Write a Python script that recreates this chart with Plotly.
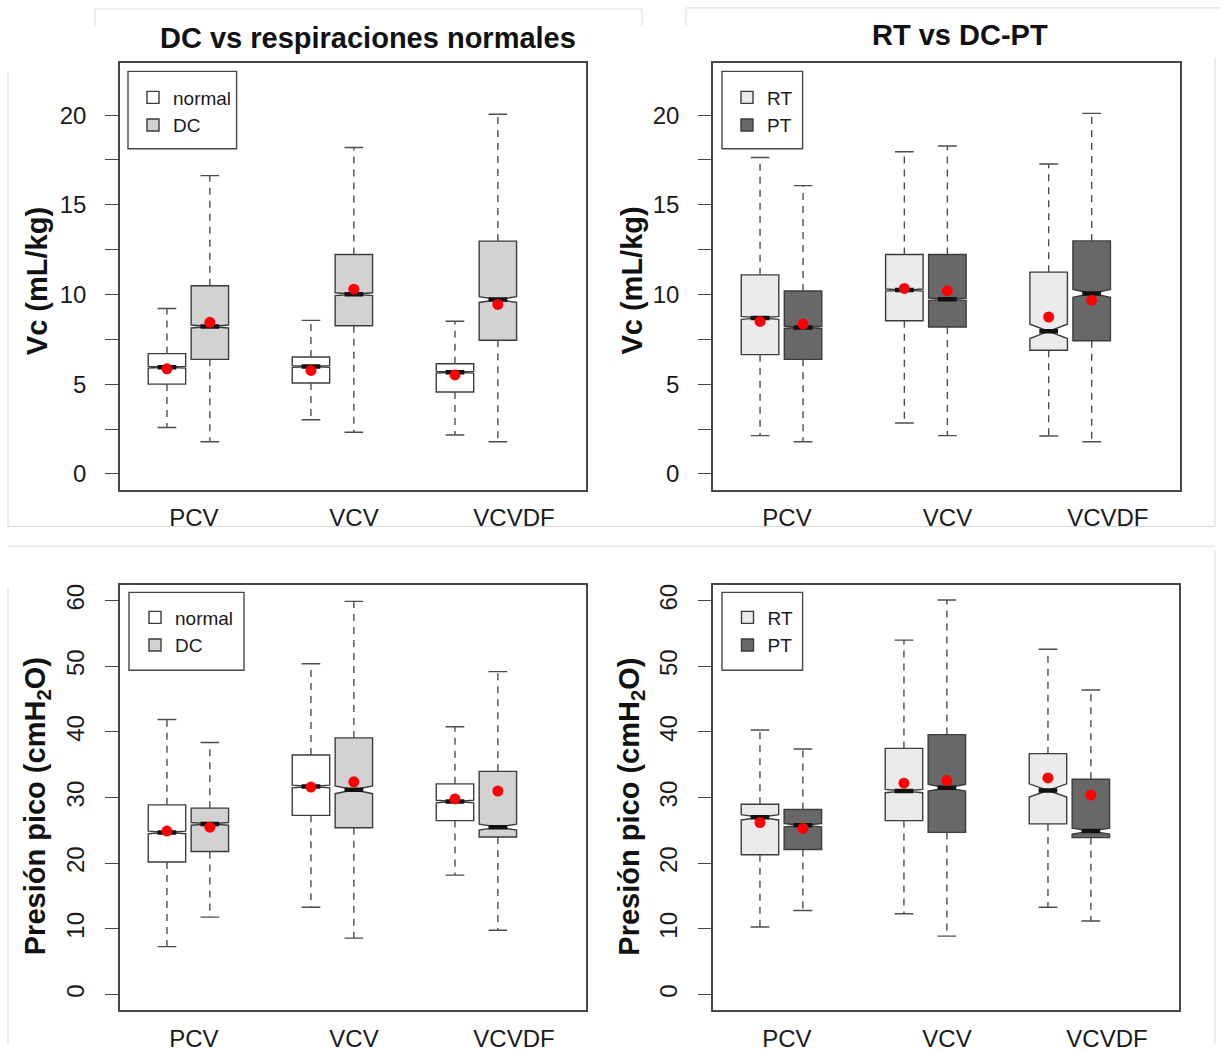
import plotly.graph_objects as go

# ---------------------------------------------------------------- data
GROUPS = ["PCV", "VCV", "VCVDF"]

# Vc (mL/kg) - normal breaths
VC_NORMAL_LOW = [2.59, 3.02, 2.17]
VC_NORMAL_Q1 = [5.01, 5.07, 4.57]
VC_NORMAL_MED = [5.95, 5.99, 5.67]
VC_NORMAL_Q3 = [6.71, 6.52, 6.14]
VC_NORMAL_HIGH = [9.22, 8.56, 8.51]
VC_NORMAL_MEAN = [5.86, 5.77, 5.52]
VC_NORMAL_NOTCH = [0.05, 0.05, 0.05]

# Vc (mL/kg) - DC
VC_DC_LOW = [1.80, 2.33, 1.80]
VC_DC_Q1 = [6.39, 8.26, 7.45]
VC_DC_MED = [8.22, 10.02, 9.72]
VC_DC_Q3 = [10.49, 12.23, 12.98]
VC_DC_HIGH = [16.63, 18.20, 20.05]
VC_DC_MEAN = [8.45, 10.30, 9.45]
VC_DC_NOTCH = [0.08, 0.08, 0.16]

# Vc (mL/kg) - RT
VC_RT_LOW = [2.14, 2.84, 2.12]
VC_RT_Q1 = [6.65, 8.54, 6.90]
VC_RT_MED = [8.70, 10.25, 7.95]
VC_RT_Q3 = [11.10, 12.23, 11.25]
VC_RT_HIGH = [17.64, 17.96, 17.28]
VC_RT_MEAN = [8.50, 10.34, 8.75]
VC_RT_NOTCH = [0.08, 0.06, 0.40]

# Vc (mL/kg) - PT
VC_PT_LOW = [1.80, 2.14, 1.80]
VC_PT_Q1 = [6.39, 8.19, 7.43]
VC_PT_MED = [8.17, 9.74, 10.06]
VC_PT_Q3 = [10.20, 12.23, 12.99]
VC_PT_HIGH = [16.07, 18.28, 20.10]
VC_PT_MEAN = [8.36, 10.21, 9.68]
VC_PT_NOTCH = [0.06, 0.06, 0.22]

# Presión pico (cmH2O) - normal breaths
PP_NORMAL_LOW = [7.3, 13.3, 18.2]
PP_NORMAL_Q1 = [20.2, 27.3, 26.5]
PP_NORMAL_MED = [24.7, 31.7, 29.4]
PP_NORMAL_Q3 = [28.9, 36.5, 32.1]
PP_NORMAL_HIGH = [41.9, 50.4, 40.8]
PP_NORMAL_MEAN = [24.9, 31.6, 29.8]
PP_NORMAL_NOTCH = [0.2, 0.2, 0.2]

# Presión pico (cmH2O) - DC
PP_DC_LOW = [11.8, 8.6, 9.8]
PP_DC_Q1 = [21.8, 25.4, 24.0]
PP_DC_MED = [26.0, 31.2, 25.5]
PP_DC_Q3 = [28.4, 39.1, 34.0]
PP_DC_HIGH = [38.4, 59.9, 49.2]
PP_DC_MEAN = [25.5, 32.4, 31.0]
PP_DC_NOTCH = [0.2, 0.6, 0.45]

# Presión pico (cmH2O) - RT
PP_RT_LOW = [10.3, 12.3, 13.3]
PP_RT_Q1 = [21.3, 26.5, 26.0]
PP_RT_MED = [27.0, 31.0, 31.1]
PP_RT_Q3 = [29.0, 37.5, 36.7]
PP_RT_HIGH = [40.3, 54.0, 52.6]
PP_RT_MEAN = [26.2, 32.2, 33.0]
PP_RT_NOTCH = [0.4, 0.25, 1.0]

# Presión pico (cmH2O) - PT
PP_PT_LOW = [12.8, 8.9, 11.2]
PP_PT_Q1 = [22.1, 24.7, 23.9]
PP_PT_MED = [25.8, 31.5, 24.9]
PP_PT_Q3 = [28.2, 39.6, 32.8]
PP_PT_HIGH = [37.4, 60.1, 46.4]
PP_PT_MEAN = [25.3, 32.6, 30.4]
PP_PT_NOTCH = [0.25, 0.5, 0.45]

VC_TICKS = [0, 5, 10, 15, 20]
VC_MINOR_TICKS = [2.5, 7.5, 12.5, 17.5]
PP_TICKS = [0, 10, 20, 30, 40, 50, 60]

# ---------------------------------------------------------------- styling
W, H = 1229, 1052
FONT = "Liberation Sans, Arial, sans-serif"
TEXT = "#1a1a1a"
FRAME = "#474747"
OUTLINE = "#3c3c3c"
WHISKER = "#4d4d4d"

WHITE, LIGHT, RT_FILL, PT_FILL = "#ffffff", "#d2d2d2", "#ebebeb", "#686868"

GROUP_POS = [1, 2, 3]
OFFSETS = [-0.149, 0.149]
BOX_W = 0.26
X_RANGE = [0.525, 3.761]
LABEL_POS = [1.038, 2.150, 3.261]
VC_RANGE = [-0.88, 22.88]
PP_RANGE = [-2.4, 62.4]

# plotting frames in pixels: left, right, top, bottom
FRAMES = [(120, 586, 63, 493), (713, 1180, 63, 493),
          (120, 586, 589, 1018), (713, 1179, 589, 1018)]
# legend boxes in pixels: left, top, right, bottom, symbol centre x, first row centre y
LEGEND_BOXES = [(128, 71, 236.6, 149, 153, 97),
                (722, 71, 802.6, 149, 747, 97),
                (129, 596.5, 244, 675, 155, 621.5),
                (722, 596.5, 802.6, 675, 747.5, 621.5)]


def series(name, fill, low, q1, med, q3, high, mean, notch):
    return dict(name=name, fill=fill, low=low, q1=q1, med=med, q3=q3,
                high=high, mean=mean, notch=notch)


PANELS = [
    [series("normal", WHITE, VC_NORMAL_LOW, VC_NORMAL_Q1, VC_NORMAL_MED, VC_NORMAL_Q3,
            VC_NORMAL_HIGH, VC_NORMAL_MEAN, VC_NORMAL_NOTCH),
     series("DC", LIGHT, VC_DC_LOW, VC_DC_Q1, VC_DC_MED, VC_DC_Q3,
            VC_DC_HIGH, VC_DC_MEAN, VC_DC_NOTCH)],
    [series("RT", RT_FILL, VC_RT_LOW, VC_RT_Q1, VC_RT_MED, VC_RT_Q3,
            VC_RT_HIGH, VC_RT_MEAN, VC_RT_NOTCH),
     series("PT", PT_FILL, VC_PT_LOW, VC_PT_Q1, VC_PT_MED, VC_PT_Q3,
            VC_PT_HIGH, VC_PT_MEAN, VC_PT_NOTCH)],
    [series("normal", WHITE, PP_NORMAL_LOW, PP_NORMAL_Q1, PP_NORMAL_MED, PP_NORMAL_Q3,
            PP_NORMAL_HIGH, PP_NORMAL_MEAN, PP_NORMAL_NOTCH),
     series("DC", LIGHT, PP_DC_LOW, PP_DC_Q1, PP_DC_MED, PP_DC_Q3,
            PP_DC_HIGH, PP_DC_MEAN, PP_DC_NOTCH)],
    [series("RT", RT_FILL, PP_RT_LOW, PP_RT_Q1, PP_RT_MED, PP_RT_Q3,
            PP_RT_HIGH, PP_RT_MEAN, PP_RT_NOTCH),
     series("PT", PT_FILL, PP_PT_LOW, PP_PT_Q1, PP_PT_MED, PP_PT_Q3,
            PP_PT_HIGH, PP_PT_MEAN, PP_PT_NOTCH)],
]

fig = go.Figure()

for k, panel in enumerate(PANELS):
    sfx = "" if k == 0 else str(k + 1)
    xa, ya, leg = "x" + sfx, "y" + sfx, "legend" + sfx
    for j, s in enumerate(panel):
        pos = [g + OFFSETS[j] for g in GROUP_POS]
        # notched box (hinges + median); whiskers are drawn separately, dashed
        fig.add_trace(go.Box(
            x=pos, q1=s["q1"], median=s["med"], q3=s["q3"],
            lowerfence=s["q1"], upperfence=s["q3"], notchspan=s["notch"],
            notched=True, notchwidth=0.5, width=BOX_W, whiskerwidth=0,
            boxpoints=False, fillcolor=s["fill"],
            line=dict(color=OUTLINE, width=1.4),
            name=s["name"], legend=leg, xaxis=xa, yaxis=ya, hoverinfo="skip"))

        wx, wy, cx, cy, mx, my = [], [], [], [], [], []
        cap = BOX_W / 4
        for p, lo, a, m, b, hi in zip(pos, s["low"], s["q1"], s["med"], s["q3"], s["high"]):
            wx += [p, p, None, p, p, None]
            wy += [b, hi, None, a, lo, None]
            cx += [p - cap, p + cap, None, p - cap, p + cap, None]
            cy += [hi, hi, None, lo, lo, None]
            mx += [p - cap, p + cap, None]
            my += [m, m, None]
        fig.add_trace(go.Scatter(x=wx, y=wy, mode="lines", xaxis=xa, yaxis=ya,
                                 line=dict(color=WHISKER, width=1.4, dash="7px,6px"),
                                 showlegend=False, hoverinfo="skip"))
        fig.add_trace(go.Scatter(x=cx, y=cy, mode="lines", xaxis=xa, yaxis=ya,
                                 line=dict(color=WHISKER, width=1.4),
                                 showlegend=False, hoverinfo="skip"))
        fig.add_trace(go.Scatter(x=mx, y=my, mode="lines", xaxis=xa, yaxis=ya,
                                 line=dict(color="#111111", width=4.5),
                                 showlegend=False, hoverinfo="skip"))
        fig.add_trace(go.Scatter(x=pos, y=s["mean"], mode="markers", xaxis=xa, yaxis=ya,
                                 marker=dict(color="#ff0000", size=11, line=dict(width=0)),
                                 showlegend=False, hoverinfo="skip"))

layout = dict(
    width=W, height=H, margin=dict(l=0, r=0, t=0, b=0),
    paper_bgcolor="white", plot_bgcolor="white", showlegend=True,
    font=dict(family=FONT, color=TEXT),
)

tick_font = dict(family=FONT, size=24, color=TEXT)
shapes = []
annotations = []

for k, (l, r, t, b) in enumerate(FRAMES):
    sfx = "" if k == 0 else str(k + 1)
    top_row = k < 2
    yaxis = dict(
        domain=[1 - b / H, 1 - t / H], anchor="x" + sfx,
        ticks="outside", ticklen=13, tickwidth=1.3, tickcolor=FRAME,
        tickfont=tick_font, showline=True, mirror=True, linecolor=FRAME,
        linewidth=1.6, showgrid=False, zeroline=False, fixedrange=True)
    if top_row:
        yaxis.update(range=VC_RANGE, tickvals=VC_TICKS, tickangle=0,
                     ticklabelstandoff=14,
                     minor=dict(tickvals=VC_MINOR_TICKS, ticks="outside", ticklen=13,
                                tickwidth=1.3, tickcolor=FRAME, showgrid=False))
    else:
        yaxis.update(range=PP_RANGE, tickvals=PP_TICKS, tickangle=-90,
                     ticklabelstandoff=12)
    layout["yaxis" + sfx] = yaxis
    layout["xaxis" + sfx] = dict(
        domain=[l / W, r / W], range=X_RANGE, anchor="y" + sfx,
        tickvals=LABEL_POS, ticktext=GROUPS, ticks="", tickfont=tick_font,
        ticklabelstandoff=6, showline=True, mirror=True, linecolor=FRAME,
        linewidth=1.6, showgrid=False, zeroline=False, fixedrange=True)

for k, (l, t, r, b, sx, sy) in enumerate(LEGEND_BOXES):
    sfx = "" if k == 0 else str(k + 1)
    layout["legend" + sfx] = dict(
        x=(sx - 20) / W, y=1 - (sy - 18.85) / H, xanchor="left", yanchor="top",
        bgcolor="rgba(0,0,0,0)", borderwidth=0, tracegroupgap=0,
        font=dict(family=FONT, size=19, color=TEXT))
    shapes.append(dict(type="rect", xref="paper", yref="paper",
                       x0=l / W, x1=r / W, y0=1 - b / H, y1=1 - t / H,
                       line=dict(color=FRAME, width=1.4), fillcolor="rgba(0,0,0,0)"))

# faint outlines of the four figure panels
PANEL_EDGES = [
    (95, 8, 642, 8), (95, 8, 95, 25), (642, 8, 642, 25),
    (686, 7, 1220, 7), (686, 7, 686, 25),
    (8, 72, 8, 530), (1215, 58, 1215, 530), (8, 530, 1215, 530),
    (8, 550, 1215, 550), (8, 592, 8, 1052), (1215, 554, 1215, 1052),
]
for x0, y0, x1, y1 in PANEL_EDGES:
    shapes.append(dict(type="line", xref="paper", yref="paper",
                       x0=x0 / W, x1=x1 / W, y0=1 - y0 / H, y1=1 - y1 / H,
                       line=dict(color="#dadada", width=1)))

# panel titles
for text, cx, cy in [("DC vs respiraciones normales", 367.5, 37),
                     ("RT vs DC-PT", 959.5, 34)]:
    annotations.append(dict(text=text, x=cx / W, y=1 - cy / H, xref="paper", yref="paper",
                            xanchor="center", yanchor="middle", showarrow=False,
                            font=dict(family=FONT, size=29, color="#111111", weight="bold")))

# y-axis titles
for text, cx, cy in [("Vc (mL/kg)", 36.6, 283), ("Vc (mL/kg)", 632, 282),
                     ("Presión pico (cmH<sub>2</sub>O)", 36.6, 812.6),
                     ("Presión pico (cmH<sub>2</sub>O)", 631, 812.6)]:
    annotations.append(dict(text=text, x=cx / W, y=1 - cy / H, xref="paper", yref="paper",
                            xanchor="center", yanchor="middle", showarrow=False,
                            textangle=-90,
                            font=dict(family=FONT, size=29, color="#111111", weight="bold")))

layout["shapes"] = shapes
layout["annotations"] = annotations
fig.update_layout(layout)

fig.write_html("out.html")
